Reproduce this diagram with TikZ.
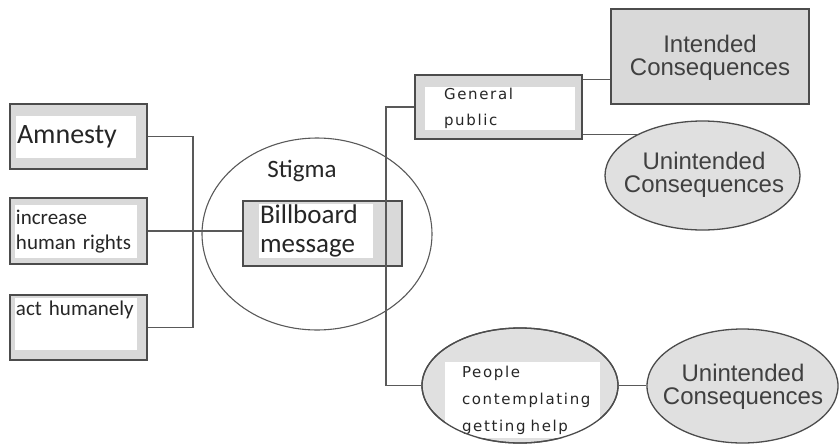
\documentclass[tikz,border=0pt]{standalone}
\usepackage{fontspec}
\setmainfont{Carlito}
\newfontfamily\headfont{Liberation Sans}
\newfontfamily\widefont{DejaVu Sans}[LetterSpace=11]
\usetikzlibrary{shapes.geometric}

\begin{document}
\begin{tikzpicture}[x=1pt,y=-1pt,
  edge/.style={draw=black!65, line width=1.1pt},
  frame/.style={draw=black!70, line width=1.3pt, fill=black!15, inner sep=0pt},
  oval/.style={ellipse, draw=black!70, line width=1.3pt, fill=black!12, inner sep=0pt},
  rim/.style={draw=black!70, line width=1.3pt},
  label/.style={fill=white, inner sep=1pt, text=black!85, align=left},
  head/.style={text=black!75, align=center, font=\headfont\fontsize{24}{23}\selectfont},
]
\useasboundingbox (0,0) rectangle (840,445);

% stigma region around the billboard
\node[ellipse, draw=black!65, line width=1.1pt, minimum width=230pt, minimum height=192pt, inner sep=0pt] (stig) at (317,234) {};
\node[text=black!85, font=\fontsize{25}{28}\selectfont] (stigT) at (302,171) {Stigma};

% left-hand boxes
\node[frame, minimum width=137pt, minimum height=65pt] (amn) at (78.5,136.5) {};
\node[label, text width=118pt, minimum height=42pt, font=\fontsize{28}{30}\selectfont] (amnT) at (76,137) {Amnesty};
\node[frame, minimum width=137pt, minimum height=66pt] (inc) at (78.5,231) {};
\node[label, text width=120pt, minimum height=53pt, font=\fontsize{21}{25}\selectfont] (incT) at (76,231.5) {increase\\human rights};
\node[frame, minimum width=137pt, minimum height=65pt] (act) at (78.5,327.5) {};
\node[label, text width=120pt, minimum height=52pt, font=\fontsize{21}{25}\selectfont] (actT) at (76,324) {act humanely\\\strut};

% billboard
\node[frame, minimum width=159pt, minimum height=65pt] (bill) at (322.5,233.5) {};
\node[label, text width=112pt, minimum height=52pt, font=\fontsize{27}{29}\selectfont] (billT) at (316,231) {Billboard\\message};

% general public branch
\node[frame, minimum width=167pt, minimum height=64pt] (gp) at (498.5,107) {};
\node[label, inner sep=0pt, text width=150pt, minimum height=43pt, font=\widefont\fontsize{15}{26}\selectfont] (gpT) at (500,108.5) {\hspace*{19pt}General\\\hspace*{19pt}public};
\node[frame, minimum width=198pt, minimum height=95pt] (int) at (710,56.5) {};
\node[head] (intT) at (710,58) {Intended\\Consequences};
\node[oval, minimum width=195pt, minimum height=109pt] (un1) at (702.5,175.5) {};
\node[head] (un1T) at (704,175) {Unintended\\Consequences};

% people contemplating help branch
\node[oval, minimum width=196pt, minimum height=115pt] (ppl) at (520,385.5) {};
\node[label, inner sep=0pt, text width=155pt, minimum height=76pt, font=\widefont\fontsize{15}{27}\selectfont] (pplT) at (522.5,400) {\hspace*{17pt}People\\\hspace*{17pt}contemplating\\\hspace*{17pt}getting help};
\draw[rim] (ppl.center) ellipse [x radius=98pt, y radius=57.5pt];
\node[oval, minimum width=191pt, minimum height=114pt] (un2) at (742.5,386) {};
\node[head] (un2T) at (743,387) {Unintended\\Consequences};

% connectors
\coordinate (j) at (193,232);
\coordinate (v) at (386,250);
\draw[edge] (amn.east) -| (j) |- (act.east);
\draw[edge] (inc.east) -- (inc.east -| bill.west);
\draw[edge] (gp.west) -| (v) |- (ppl.west);
\draw[edge] ([yshift=-5pt]gp.north east) coordinate (g1) -- (g1 -| int.west);
\draw[edge] ([yshift=5pt]gp.south east) coordinate (g2) -- (g2 -| un1.147);
\draw[edge] (ppl.east) -- (ppl.east -| un2.west);
\end{tikzpicture}
\end{document}
